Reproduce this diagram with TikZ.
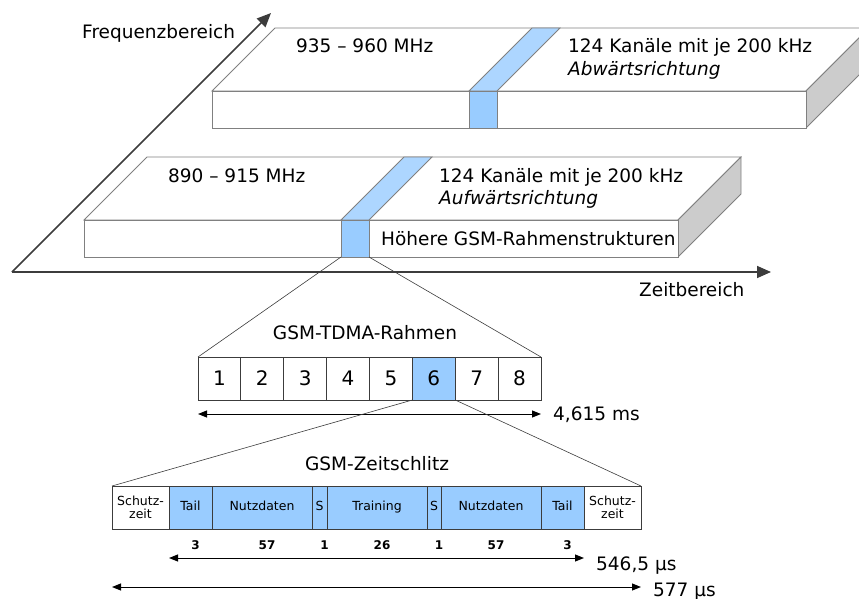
\documentclass[tikz,border=0pt]{standalone}
\usepackage{fontspec}
\setmainfont{DejaVu Sans}
\usetikzlibrary{arrows.meta,positioning,calc}
\definecolor{edgecol}{RGB}{128,128,128}
\definecolor{slotblue}{RGB}{153,204,255}
\definecolor{topblue}{RGB}{173,214,255}
\definecolor{sidecol}{RGB}{204,204,204}
\definecolor{axiscol}{RGB}{60,60,60}

\begin{document}
\begin{tikzpicture}[x=1pt,y=-1pt,
  lbl/.style={font=\fontsize{18.5}{22}\selectfont,inner sep=0pt,anchor=base west},
  face/.style={draw=edgecol,line width=0.8pt,fill=white},
  cell/.style={draw=axiscol,line width=0.8pt,minimum height=43pt,inner sep=0pt,outer sep=0pt,anchor=north west},
  one/.style={text height=9pt,text depth=2.5pt},
  link/.style={draw=axiscol,line width=0.6pt},
  dim/.style={line width=1pt,{Triangle[length=9pt,width=7pt]}-{Triangle[length=9pt,width=7pt]}},
  axis/.style={axiscol,line width=1.6pt,-{Triangle[length=14pt,width=12pt]}}]
  \useasboundingbox (0,0) rectangle (859,599);
  \clip (0,0) rectangle (859,599);
  % axes
  \coordinate (O) at (12,272);
  \coordinate (fend) at (271,13);
  \coordinate (tend) at (771,272);
  \draw[axis] (O) -- (fend);
  \draw[axis] (O) -- (tend);
  \node[lbl] (flab) at (82,39) {Frequenzbereich};
  \node[lbl] (tlab) at (639,296) {Zeitbereich};
  % frequency bands, downlink shifted up
  \foreach \dx/\dy/\n in {128/-129/down,0/0/up}{
    \begin{scope}[shift={(\dx,\dy)}]
      \draw[face] (84,220) -- (147,157) -- (741,157) -- (678,220) -- cycle;
      \draw[face,fill=sidecol] (678,220) -- (741,157) -- (741,194) -- (678,257) -- cycle;
      \draw[face] (84,220) rectangle (678,257);
      \draw[draw=edgecol,line width=0.8pt,fill=topblue] (341,220) -- (404,157) -- (432,157) -- (369,220) -- cycle;
      \node[draw=edgecol,line width=0.8pt,fill=slotblue,minimum width=28pt,minimum height=37pt,
            inner sep=0pt,outer sep=0pt,anchor=north west] (strip\n) at (341,220) {};
    \end{scope}}
  \node[lbl] (fdown) at (296,53) {935 – 960 MHz};
  \node[lbl] (kdown) at (568,53) {124 Kanäle mit je 200 kHz};
  \node[lbl,font=\fontsize{18.5}{22}\selectfont\itshape] (ddown) at (568,76) {Abwärtsrichtung};
  \node[lbl] (fup) at (168,182) {890 – 915 MHz};
  \node[lbl] (kup) at (439,182) {124 Kanäle mit je 200 kHz};
  \node[lbl,font=\fontsize{18.5}{22}\selectfont\itshape] (dup) at (439,204) {Aufwärtsrichtung};
  \node[lbl] (higher) at (381,245) {Höhere GSM-Rahmenstrukturen};
  % TDMA frame
  \node[lbl,anchor=base] (framelab) at (365,339) {GSM-TDMA-Rahmen};
  \foreach \i in {1,...,8}{
    \node[cell,minimum width=42.875pt,font=\fontsize{20}{24}\selectfont] (f\i) at ({198+(\i-1)*42.875},357) {\i};}
  \node[cell,minimum width=42.875pt,font=\fontsize{20}{24}\selectfont,fill=slotblue] (f6) at ({198+5*42.875},357) {6};
  \draw[link] (stripup.south west) -- (f1.north west);
  \draw[link] (stripup.south east) -- (f8.north east);
  \draw[dim] ([yshift=-14pt]f1.south west) -- ([yshift=-14pt]f8.south east);
  \node[lbl] (framelen) at (553,420) {4,615 ms};
  % time slot
  \node[lbl,anchor=base] (slotlab) at (377,470) {GSM-Zeitschlitz};
  \foreach \i/\x/\w/\t/\c/\o in {1/112/57/{Schutz-\\zeit}/white/{},2/169/43/Tail/slotblue/one,
      3/212/100/Nutzdaten/slotblue/one,4/312/15/S/slotblue/one,5/327/100/Training/slotblue/one,
      6/427/14/S/slotblue/one,7/441/100/Nutzdaten/slotblue/one,8/541/43/Tail/slotblue/one,
      9/584/57/{Schutz-\\zeit}/white/{}}{
    \node[cell,\o,minimum width=\w pt,fill=\c,align=center,font=\fontsize{12.5}{13}\selectfont] (s\i) at (\x,486) {\t};}
  \foreach \i/\b in {2/3,3/57,4/1,5/26,6/1,7/57,8/3}{
    \node[font=\bfseries\fontsize{12}{13}\selectfont,inner sep=0pt] (n\i) at ([xshift=5pt,yshift=-16pt]s\i.south) {\b};}
  \draw[link] (f6.south west) -- (s1.north west);
  \draw[link] (f6.south east) -- (s9.north east);
  \draw[dim] ([yshift=-29pt]s2.south west) -- ([yshift=-29pt]s8.south east);
  \draw[dim] ([yshift=-58pt]s1.south west) -- ([yshift=-58pt]s9.south east);
  \node[lbl] (burstlen) at (596,570) {546,5 µs};
  \node[lbl] (slotlen) at (653,596) {577 µs};
\end{tikzpicture}
\end{document}
